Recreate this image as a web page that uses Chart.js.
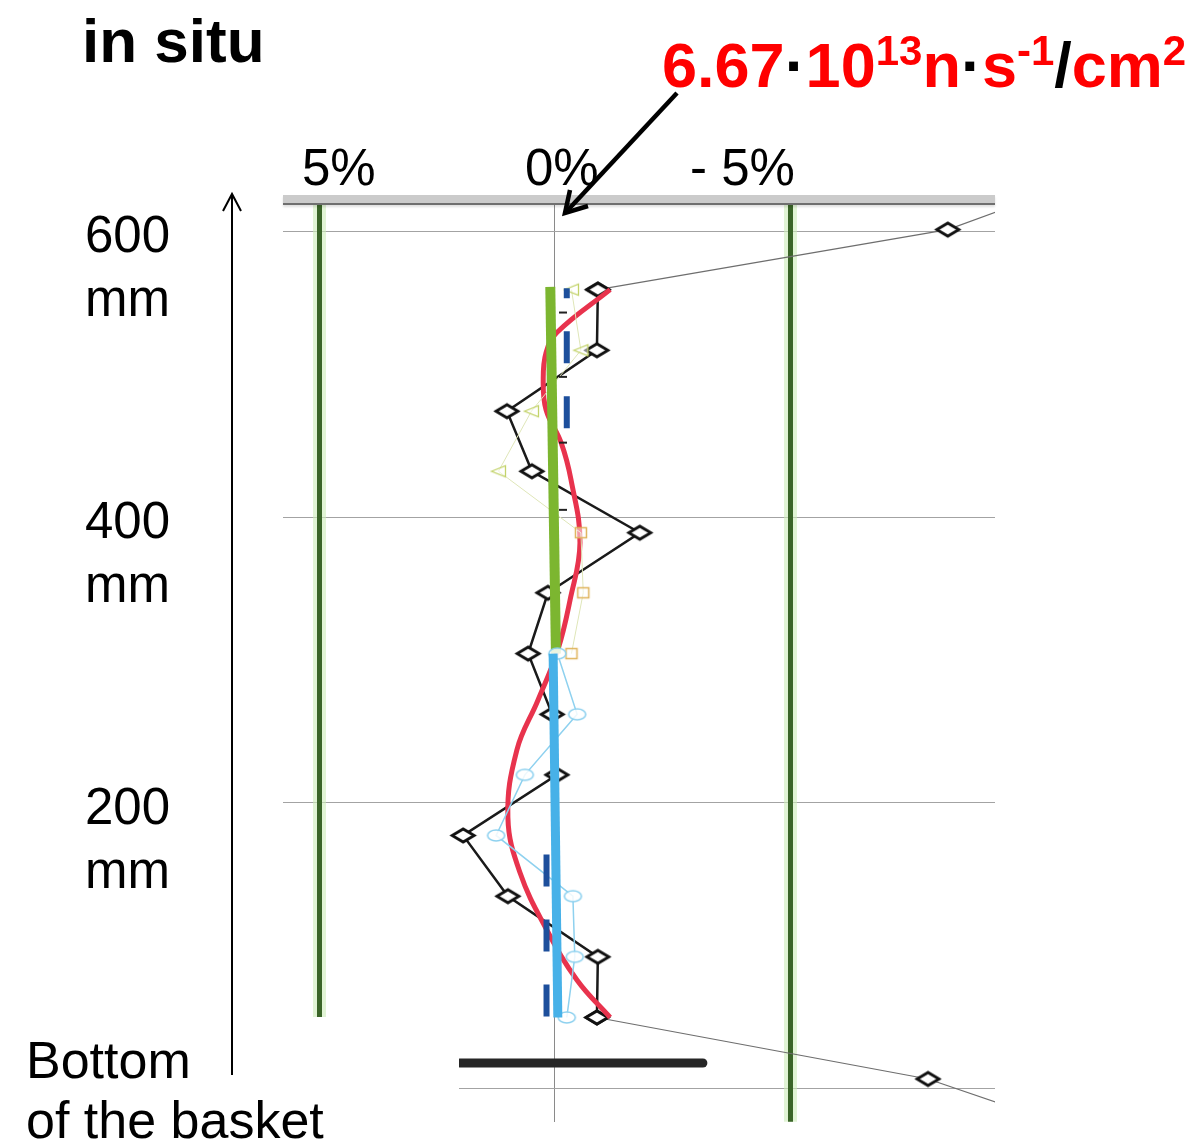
<!DOCTYPE html>
<html><head><meta charset="utf-8">
<script src="https://cdn.jsdelivr.net/npm/chart.js@4.4.1/dist/chart.umd.min.js"></script>
<style>
html,body{margin:0;padding:0;background:#fff;}
body{width:1202px;height:1143px;position:relative;overflow:hidden;font-family:"Liberation Sans",Arial,sans-serif;}
#wrap{position:absolute;left:0;top:0;width:1202px;height:1143px;}
.t{position:absolute;white-space:nowrap;line-height:1;color:#000;}
.red{color:#ff0000;}
.k{color:#000;}
.sup{font-size:42px;position:relative;top:-22px;}
</style></head><body>
<div id="wrap"><canvas id="c" width="1202" height="1143"></canvas></div>
<div style="position:absolute;left:283px;top:195px;width:712px;height:8px;background:#cbcbcb;border-bottom:2px solid #6f6f6f;box-shadow:0 2px 2px rgba(0,0,0,0.12)"></div>
<div style="position:absolute;left:283px;top:1017px;width:176px;height:110px;background:#fff"></div>
<div id="labels"></div>
<svg width="1202" height="1143" style="position:absolute;left:0;top:0;pointer-events:none">
<line x1="677" y1="93" x2="567" y2="211" stroke="#000" stroke-width="4.5"/>
<polyline points="588,206 565,213 570,190" fill="none" stroke="#000" stroke-width="4.5" stroke-linejoin="miter"/>
<line x1="232" y1="1075" x2="232" y2="194" stroke="#000" stroke-width="2"/>
<polyline points="223,211 232,194 241,211" fill="none" stroke="#000" stroke-width="2"/>
</svg>
<script>
// ---- data (deviation in %, height in mm) ----
const titleText = "in situ";
const xTickValues = [5, 0, -5];
const xTickLabels = ["5%", "0%", "- 5%"];
const yTickValues = [0, 200, 400, 600];
const yTickLabels = ["600", "400", "200"];
const yUnit = "mm";
const bottomLabel = ["Bottom", "of the basket"];

const heightsMm = [50, 92.4, 134.8, 177.3, 219.7, 262, 304.5, 347, 389, 432, 474, 516.6, 559];
const blackDev  = [-0.89, -0.91, 1.0, 1.95, -0.04, 0.06, 0.57, 0.15, -1.8, 0.49, 1.02, -0.89, -0.91];
const outerTopH = [559, 601, 643.6];
const outerTopDev = [-0.91, -8.34, -11.9];
const outerBotH = [-35.4, 7, 50];
const outerBotDev = [-11.7, -7.92, -0.89];
const redH   = [50, 76, 111, 151, 190, 237, 272, 307, 342, 382, 426, 452, 475, 496, 515, 529, 559];
const redDev = [-1.17, -0.47, 0.17, 0.74, 1.0, 0.81, 0.36, -0.06, -0.32, -0.53, -0.34, -0.13, 0.19, 0.25, 0.19, -0.04, -1.17];
const greenFitH = [304.5, 561];
const greenFitDev = [-0.02, 0.10];
const blueFitH = [50, 304.5];
const blueFitDev = [-0.06, 0.04];
const cyanH = [50, 92.4, 134.8, 177.3, 219.7, 262, 304.5];
const cyanDev = [-0.25, -0.42, -0.38, 1.25, 0.64, -0.47, -0.05];
const paleH = [304.5, 347, 389, 432, 474, 516.6, 559];
const paleDev = [-0.35, -0.6, -0.55, 1.2, 0.5, -0.55, -0.35];
const navyTopH = [560, 462];
const navyTopDev = [-0.25, -0.25];
const navyBotH = [164, 50];
const navyBotDev = [0.18, 0.18];
const tickH = [405, 452, 498, 543];
const tickDev = [-0.17, -0.17, -0.17, -0.17];
const basketH = [18.2, 18.2];
const basketDev = [2.02, -3.14];
const limitH = [-23, 625];
const limitDev = [5, -5];
const fluxLabel = {value: "6.67", exp: "13", unit1: "n", unit2: "s", exp2: "-1", unit3: "cm", exp3: "2"};

// ---- text ----
const L = document.getElementById('labels');
function addText(html, style){ const d=document.createElement('div'); d.className='t'; d.innerHTML=html; d.setAttribute('style', style); L.appendChild(d); }
addText(titleText, 'left:82px;top:10px;font-size:62px;font-weight:bold');
const xLabelLeft = [302, 525, 690];
xTickLabels.forEach((s,i)=>addText(s, `left:${xLabelLeft[i]}px;top:142px;font-size:51px`));
const yLabelTop = [209, 495, 781];
yTickLabels.forEach((s,i)=>{ addText(s, `left:85px;top:${yLabelTop[i]}px;font-size:51px`); addText(yUnit, `left:85px;top:${yLabelTop[i]+64}px;font-size:51px`); });
addText(bottomLabel[0], 'left:26px;top:1034px;font-size:52px');
addText(bottomLabel[1], 'left:26px;top:1094px;font-size:52px');
addText(`<span class="red">${fluxLabel.value}</span><span class="k">·</span><span class="red">10</span><span class="red sup">${fluxLabel.exp}</span><span class="red">${fluxLabel.unit1}</span><span class="k">·</span><span class="red">${fluxLabel.unit2}</span><span class="red sup">${fluxLabel.exp2}</span><span class="k">/</span><span class="red">${fluxLabel.unit3}</span><span class="red sup">${fluxLabel.exp3}</span>`,
  'left:662px;top:34px;font-size:63px;font-weight:bold');

// ---- marker images ----
function marker(kind, w, h, lw, stroke, fill){
  const c=document.createElement('canvas'); c.width=Math.ceil(w+lw*2+2); c.height=Math.ceil(h+lw*2+2);
  const x=c.getContext('2d'); const cx=c.width/2, cy=c.height/2;
  x.beginPath();
  if(kind==='diamond'){ x.moveTo(cx-w/2,cy); x.lineTo(cx,cy-h/2); x.lineTo(cx+w/2,cy); x.lineTo(cx,cy+h/2); x.closePath(); }
  else if(kind==='ellipse'){ x.ellipse(cx,cy,w/2,h/2,0,0,Math.PI*2); }
  else if(kind==='triLeft'){ x.moveTo(cx-w/2,cy); x.lineTo(cx+w/2,cy-h/2); x.lineTo(cx+w/2,cy+h/2); x.closePath(); }
  else { x.rect(cx-w/2,cy-h/2,w,h); }
  x.fillStyle=fill; x.fill(); x.lineWidth=lw; x.strokeStyle=stroke; x.stroke();
  return c;
}
const diamondImg = marker('diamond', 22, 13, 2.8, '#111', '#fff');
const ellipseImg = marker('ellipse', 17, 11, 1.6, '#8ed1ef', 'rgba(255,255,255,0.85)');
const triImg = marker('triLeft', 14, 11, 1.3, '#c3d36a', 'rgba(255,255,255,0.5)');
const sqImg = marker('square', 11, 10, 1.5, '#dfb35a', 'rgba(255,255,255,0.5)');

const pts = (H, D) => H.map((h,i)=>({x:D[i], y:h}));
const line = (H, D, extra) => Object.assign({data: pts(H,D), showLine:true, pointRadius:0, fill:false}, extra);

const datasets = [
  line(tickH, tickDev, {showLine:false, pointStyle:'line', pointRadius:4, borderColor:'#222', borderWidth:2, order:1}),
  line(navyTopH, navyTopDev, {borderColor:'#1d4f9c', borderWidth:6, borderDash:[32,33], borderDashOffset:22, borderCapStyle:'butt', order:2}),
  line(navyBotH, navyBotDev, {borderColor:'#1d4f9c', borderWidth:6, borderDash:[32,33], borderCapStyle:'butt', order:2}),
  line(blueFitH, blueFitDev, {borderColor:'#47b1e8', borderWidth:9, order:3}),
  line(cyanH, cyanDev, {borderColor:'#8ed1ef', borderWidth:1.5, pointStyle:ellipseImg, pointRadius:5, order:4}),
  line(greenFitH, greenFitDev, {borderColor:'#7cb630', borderWidth:10, borderCapStyle:'butt', order:5}),
  line(paleH, paleDev, {borderColor:'#dfe6b8', borderWidth:1, pointStyle:[sqImg,sqImg,sqImg,triImg,triImg,triImg,triImg], pointRadius:5, order:6}),
  line(redH, redDev, {borderColor:'#e8334d', borderWidth:5, tension:0.4, order:7}),
  line(heightsMm, blackDev, {borderColor:'#1a1a1a', borderWidth:2.5, pointStyle:diamondImg, pointRadius:5, order:8}),
  line(outerTopH, outerTopDev, {borderColor:'#6e6e6e', borderWidth:1.2, pointStyle:diamondImg, pointRadius:5, order:9}),
  line(outerBotH, outerBotDev, {borderColor:'#6e6e6e', borderWidth:1.2, pointStyle:diamondImg, pointRadius:5, order:9}),
  line(basketH, basketDev, {borderColor:'#262626', borderWidth:9, borderCapStyle:'round', order:10}),
  line(limitH, [limitDev[0],limitDev[0]], {borderColor:'#3a6428', borderWidth:5, order:11}),
  line(limitH, [limitDev[1],limitDev[1]], {borderColor:'#3a6428', borderWidth:5, order:11}),
  line(limitH, [limitDev[0],limitDev[0]], {borderColor:'rgba(205,236,185,0.6)', borderWidth:13, order:12}),
  line(limitH, [limitDev[1],limitDev[1]], {borderColor:'rgba(205,236,185,0.6)', borderWidth:13, order:12})
];

new Chart(document.getElementById('c'), {
  type: 'scatter',
  data: { datasets },
  options: {
    responsive:false, animation:false, devicePixelRatio:1,
    layout:{ padding:{left:283, right:207, top:195, bottom:21}, autoPadding:false },
    plugins:{ legend:{display:false}, tooltip:{enabled:false} },
    scales:{
      x:{ type:'linear', reverse:true, min:-9.342, max:5.775,
          afterBuildTicks: s => { s.ticks = [{value:xTickValues[1]}]; },
          ticks:{display:false}, border:{display:false},
          grid:{ color:'#8a8a8a', lineWidth:1, drawTicks:false } },
      y:{ type:'linear', min:-23.1, max:625.2,
          afterBuildTicks: s => { s.ticks = yTickValues.map(v=>({value:v})); },
          ticks:{display:false}, border:{display:false},
          grid:{ color:'#a3a3a3', lineWidth:1, drawTicks:false } }
    }
  }
});
</script>
</body></html>
